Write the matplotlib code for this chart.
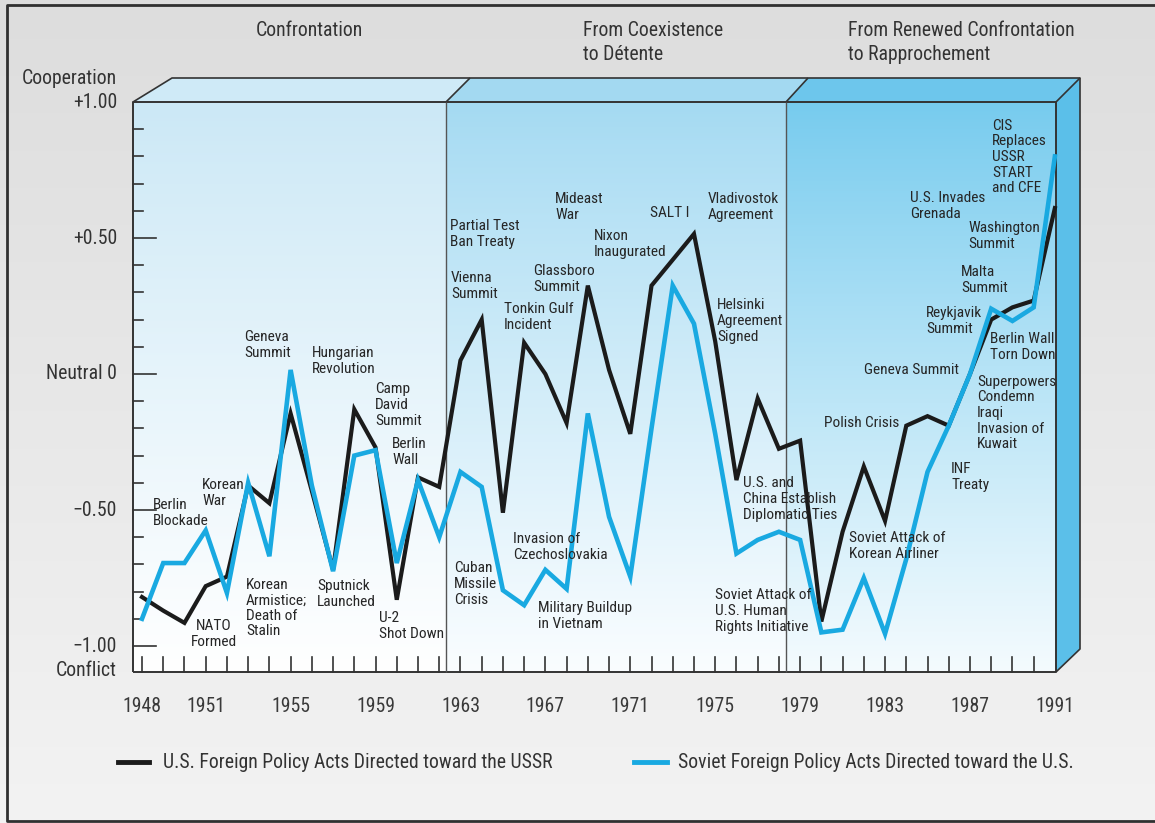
import numpy as np
import matplotlib
matplotlib.use('Agg')
import matplotlib.pyplot as plt
from matplotlib import font_manager
from matplotlib.colors import to_rgb
from matplotlib.patches import Polygon

# data (yearly scores, -1 conflict ... +1 cooperation)
years = list(range(1948, 1992))
us_acts = [-0.82, -0.87, -0.915, -0.78, -0.745, -0.41, -0.475, -0.145, -0.43, -0.72,
           -0.13, -0.27, -0.83, -0.38, -0.415, 0.05, 0.20, -0.51, 0.115, 0.0,
           -0.18, 0.325, 0.015, -0.22, 0.325, 0.42, 0.515, 0.12, -0.39, -0.09,
           -0.275, -0.245, -0.91, -0.58, -0.34, -0.54, -0.19, -0.155, -0.19, 0.0,
           0.20, 0.245, 0.27, 0.61]
soviet_acts = [-0.90, -0.695, -0.695, -0.575, -0.805, -0.40, -0.67, 0.015, -0.41, -0.725,
               -0.30, -0.28, -0.695, -0.39, -0.60, -0.36, -0.415, -0.795, -0.85, -0.72,
               -0.79, -0.145, -0.525, -0.745, -0.20, 0.325, 0.185, -0.22, -0.66, -0.61,
               -0.58, -0.61, -0.95, -0.94, -0.75, -0.955, -0.68, -0.36, -0.19, 0.0,
               0.24, 0.195, 0.245, 0.80]
year_labels = [1948, 1951, 1955, 1959, 1963, 1967, 1971, 1975, 1979, 1983, 1987, 1991]
value_ticks = [1.0, 0.5, 0.0, -0.5, -1.0]
value_labels = ['+1.00', '+0.50', 'Neutral 0', '\u22120.50', '\u22121.00']
eras = ['Confrontation', 'From Coexistence\nto D\u00e9tente',
        'From Renewed Confrontation\nto Rapprochement']
legend_labels = ['U.S. Foreign Policy Acts Directed toward the USSR',
                 'Soviet Foreign Policy Acts Directed toward the U.S.']

# event notes: text, left x (px), centre y (px), alignment
events = [
    ('Berlin\nBlockade', 153, 513, 'left'),
    ('Korean\nWar', 202, 493, 'left'),
    ('NATO\nFormed', 214, 634, 'center'),
    ('Korean\nArmistice;\nDeath of\nStalin', 246, 608, 'left'),
    ('Geneva\nSummit', 244, 345, 'left'),
    ('Hungarian\nRevolution', 312, 361, 'left'),
    ('Camp\nDavid\nSummit', 375, 405, 'left'),
    ('Berlin\nWall', 392, 452, 'left'),
    ('Sputnick\nLaunched', 317, 594, 'left'),
    ('U-2\nShot Down', 379, 626, 'left'),
    ('Partial Test\nBan Treaty', 450, 234, 'left'),
    ('Vienna\nSummit', 451, 286, 'left'),
    ('Mideast\nWar', 555, 207, 'left'),
    ('Glassboro\nSummit', 533, 279, 'left'),
    ('Tonkin Gulf\nIncident', 504, 317, 'left'),
    ('Nixon\nInaugurated', 594, 244, 'left'),
    ('SALT I', 650, 213, 'left'),
    ('Vladivostok\nAgreement', 708, 207, 'left'),
    ('Helsinki\nAgreement\nSigned', 717, 321, 'left'),
    ('U.S. and\nChina Establish\nDiplomatic Ties', 743, 499, 'left'),
    ('Cuban\nMissile\nCrisis', 454, 584, 'left'),
    ('Invasion of\nCzechoslovakia', 513, 547, 'left'),
    ('Military Buildup\nin Vietnam', 538, 616, 'left'),
    ('Soviet Attack of\nU.S. Human\nRights Initiative', 715, 611, 'left'),
    ('Polish Crisis', 824, 423, 'left'),
    ('Soviet Attack of\nKorean Airliner', 849, 546, 'left'),
    ('Geneva Summit', 864, 370, 'left'),
    ('Reykjavik\nSummit', 926, 321, 'left'),
    ('U.S. Invades\nGrenada', 910, 206, 'left'),
    ('CIS\nReplaces\nUSSR\nSTART\nand CFE', 992, 157, 'left'),
    ('Washington\nSummit', 968, 236, 'left'),
    ('Malta\nSummit', 961, 280, 'left'),
    ('Berlin Wall\nTorn Down', 990, 347, 'left'),
    ('Superpowers\nCondemn\nIraqi\nInvasion of\nKuwait', 977, 413, 'left'),
    ('INF\nTreaty', 951, 477, 'left'),
]

# pick a narrow sans if one is installed, else shrink a regular one
fonts = font_manager.fontManager.ttflist
names = {f.name for f in fonts}
FONT, STRETCH, k = 'DejaVu Sans', 'normal', 0.76
for fam, kk in [('Liberation Sans Narrow', 1.0), ('Roboto Condensed', 0.98),
                ('Noto Sans Condensed', 0.91), ('Open Sans Condensed', 0.91)]:
    if fam in names:
        FONT, k = fam, kk
        break
else:
    if any(f.name == 'DejaVu Sans' and 'ondensed' in str(f.stretch) + f.fname for f in fonts):
        FONT, STRETCH, k = 'DejaVu Sans', 'condensed', 0.84
    elif 'Roboto' in names:
        FONT, k = 'Roboto', 0.87
plt.rcParams['font.family'] = [FONT, 'DejaVu Sans']
plt.rcParams['font.stretch'] = STRETCH

W, H = 1155, 823
BIG, SMALL = 14.5 * k, 11.3 * k
LS_SMALL = 17.6 / (SMALL * 100 / 72)
LS_BIG = 25.0 / (BIG * 100 / 72)


def X(px):
    return 1948 + (px - 142) / 21.23


def V(py):
    return (374 - py) / 272


fig = plt.figure(figsize=(W / 100, H / 100), dpi=100)
ax = fig.add_axes([0, 0, 1, 1])
ax.set_autoscale_on(False)
ax.set_xlim(X(0), X(W))
ax.set_ylim(V(H), V(0))
ax.axis('off')


def gradient(x0, x1, y0, y1, top, bottom, z, power=1.0):
    c0, c1 = np.array(to_rgb(top)), np.array(to_rgb(bottom))
    t = np.linspace(0, 1, 256)[:, None] ** power
    img = (c0 + (c1 - c0) * t)[:, None, :]
    ax.imshow(img, extent=(X(x0), X(x1), V(y1), V(y0)), origin='upper',
              aspect='auto', interpolation='bilinear', zorder=z)


def poly(pts, fc, z):
    ax.add_patch(Polygon([(X(a), V(b)) for a, b in pts], closed=True,
                         facecolor=fc, edgecolor='none', zorder=z))


def seg(pts, z=5, lw=1.2, color='#333333'):
    ax.plot([X(a) for a, b in pts], [V(b) for a, b in pts], color=color,
            lw=lw, zorder=z, solid_capstyle='butt')


# page background and frame
gradient(0, W, 0, H, '#dddddd', '#f3f3f3', 0)
seg([(W + 5, 5), (7, 5), (7, 821), (W + 5, 821)], z=9, lw=2.0, color='#303030')

# box: top faces, side face, front faces
poly([(133, 102), (172, 78), (470, 78), (446, 102)], '#cfeaf7', 1)
poly([(446, 102), (470, 78), (808, 78), (786, 102)], '#a3d9f1', 1)
poly([(786, 102), (808, 78), (1080, 78), (1056, 102)], '#6dc6ec', 1)
poly([(1056, 102), (1080, 78), (1080, 649), (1056, 672)], '#5bbfe9', 1)
gradient(133, 446, 102, 672, '#cbe8f6', '#ffffff', 1, 0.9)
gradient(446, 786, 102, 672, '#a4daf2', '#fafdff', 1, 0.9)
gradient(786, 1056, 102, 672, '#76cbee', '#f4fbfe', 1, 0.9)

seg([(133, 102), (172, 78), (1080, 78), (1080, 649), (1056, 672)])
seg([(133, 672), (133, 102), (1056, 102), (1056, 672), (133, 672)], lw=1.4)
for dx, tx in [(446, 470), (786, 808), (1056, 1080)]:
    seg([(dx, 102), (tx, 78)])
seg([(446, 102), (446, 672)], lw=1.0, color='#555555')
seg([(786, 102), (786, 672)], lw=1.0, color='#555555')

# value ticks
for v in np.round(np.arange(-1.0, 1.0, 0.1), 1):
    major = abs(v * 2 - round(v * 2)) < 1e-6
    ax.plot([X(133), X(156 if major else 143)], [v, v], color='#333333',
            lw=1.2, zorder=5)
# year ticks
for yr in years[:-1]:
    ax.plot([yr, yr], [V(672), V(657)], color='#333333', lw=1.2, zorder=5)

# series
ax.plot(years, us_acts, color='#1b1b1b', lw=3.0, zorder=6,
        solid_joinstyle='miter')
ax.plot(years, soviet_acts, color='#19a9e1', lw=3.3, zorder=7,
        solid_joinstyle='miter')

# axis text
txt = '#333333'
for v, lab in zip(value_ticks, value_labels):
    ax.text(X(117), v, lab, ha='right', va='center', fontsize=BIG, color=txt)
ax.text(X(117), V(78), 'Cooperation', ha='right', va='center', fontsize=BIG, color=txt)
ax.text(X(117), V(671), 'Conflict', ha='right', va='center', fontsize=BIG, color=txt)
for yr in year_labels:
    ax.text(yr, V(706), str(yr), ha='center', va='center', fontsize=BIG, color='#3a3a3a')

# era headings
ax.text(X(309), V(30), eras[0], ha='center', va='center', fontsize=BIG, color=txt)
ax.text(X(583), V(42.5), eras[1], ha='left', va='center', fontsize=BIG,
        color=txt, linespacing=LS_BIG)
ax.text(X(848), V(42.5), eras[2], ha='left', va='center', fontsize=BIG,
        color=txt, linespacing=LS_BIG)

# event notes
for label, px, py, ha in events:
    ax.text(X(px), V(py), label, ha=ha, va='center', fontsize=SMALL,
            color='#262626', linespacing=LS_SMALL, zorder=8, multialignment=ha)

# legend
ax.plot([X(118), X(149)], [V(762), V(762)], color='#1b1b1b', lw=3.5, zorder=6)
ax.text(X(163), V(762), legend_labels[0], ha='left', va='center', fontsize=BIG, color=txt)
ax.plot([X(634), X(667)], [V(762), V(762)], color='#19a9e1', lw=3.5, zorder=6)
ax.text(X(678), V(762), legend_labels[1], ha='left', va='center', fontsize=BIG, color=txt)

fig.savefig('out.png', dpi=100)
